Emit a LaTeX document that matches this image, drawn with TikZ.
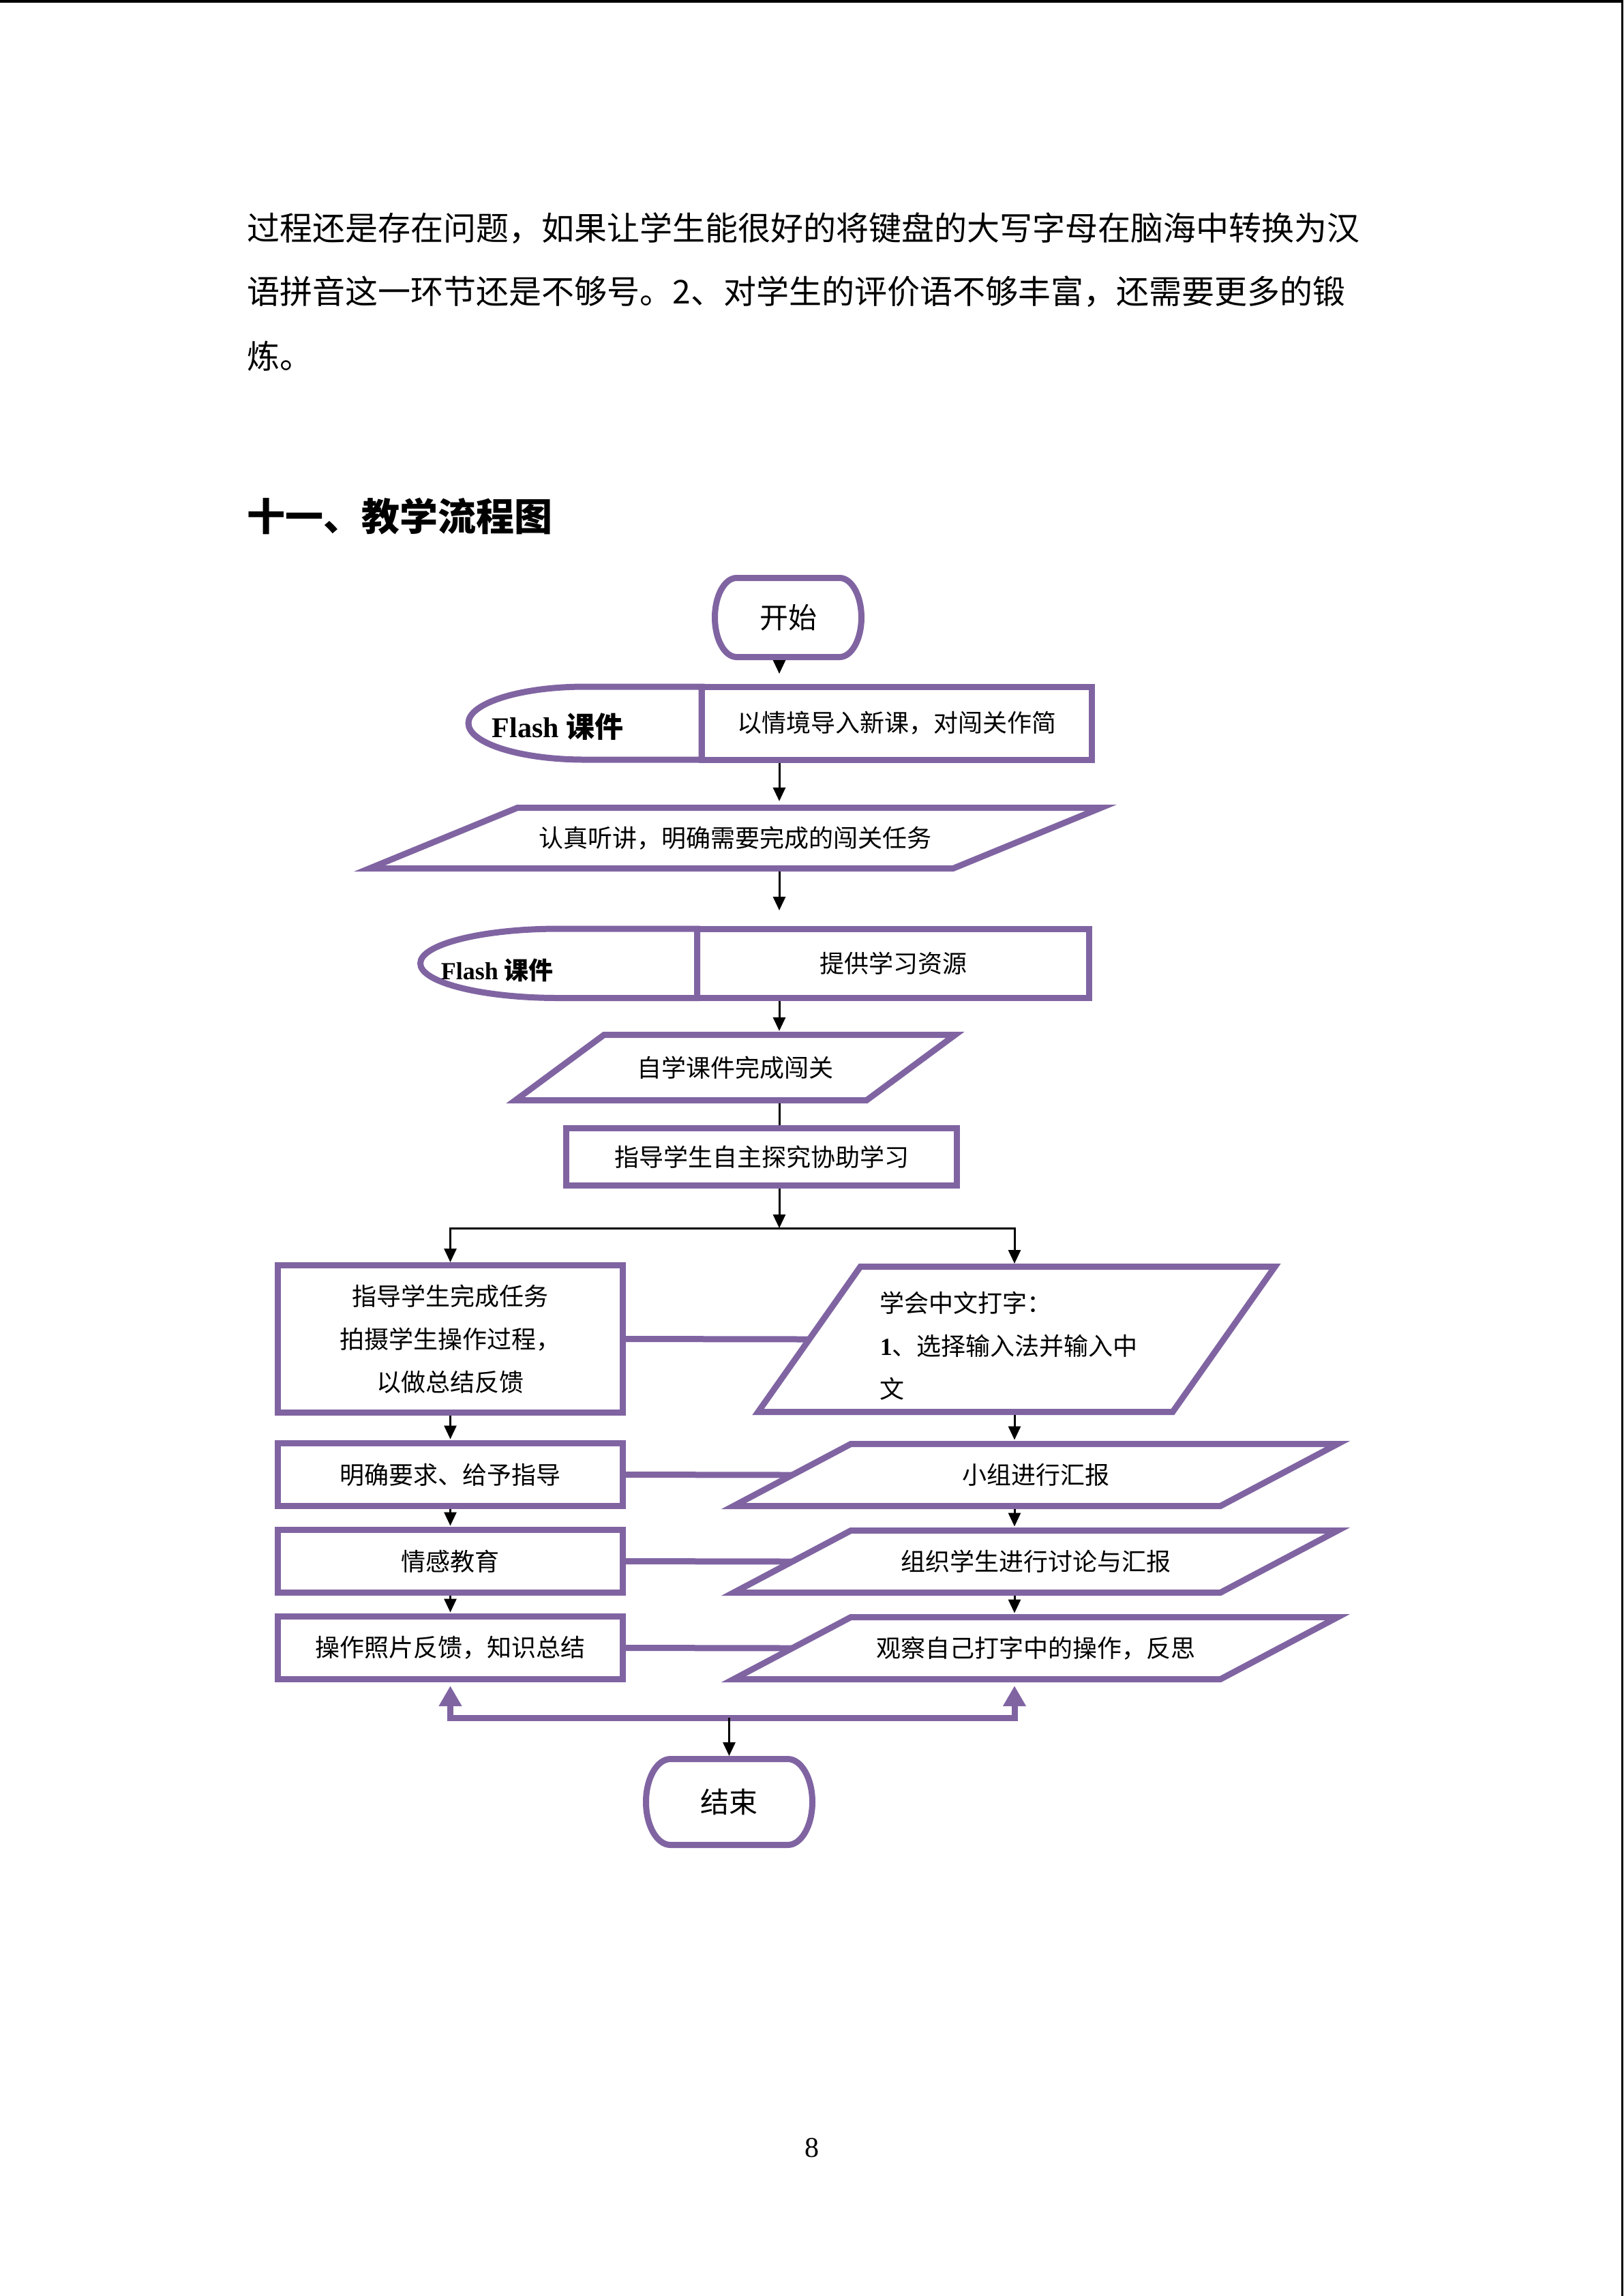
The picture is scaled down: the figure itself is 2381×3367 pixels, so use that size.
\documentclass[tikz,border=0pt]{standalone}
\usepackage{fontspec}
\setmainfont{Liberation Serif}
\newfontfamily\cjk{Noto Sans CJK SC}
\usetikzlibrary{arrows.meta}
\definecolor{purp}{HTML}{8064A2}

\newcommand\termpath[3]{%
  \draw[pline] ([xshift=#2]#1.north west) -- ([xshift=-#2]#1.north east)
    arc[start angle=90,end angle=-90,x radius=#2,y radius=#3]
    -- ([xshift=#2]#1.south west)
    arc[start angle=270,end angle=90,x radius=#2,y radius=#3] -- cycle;}
\newcommand\parapath[2]{%
  \draw[pline] ([xshift=#2]#1.north west) -- (#1.north east)
    -- ([xshift=-#2]#1.south east) -- (#1.south west) -- cycle;}
\newcommand\delaypath[3]{%
  \draw[pline] (#1.north east) -- (#1.north)
    arc[start angle=90,end angle=270,x radius=#2,y radius=#3]
    -- (#1.south east) -- cycle;}

\tikzset{
  shp/.style={inner sep=0pt, outer sep=0pt, align=center,
    font=\cjk\fontsize{9pt}{15.75pt}\selectfont},
  pline/.style={draw=purp, line width=2.25pt, line join=miter},
  blk/.style={draw=black, line width=0.75pt},
  arr/.style={blk, -{Triangle[length=5pt,width=4.5pt]}, shorten <=1.125pt, shorten >=1.5pt},
  pbar/.style={draw=purp, line width=2.25pt},
  parr/.style={draw=purp, line width=2.25pt, line join=miter,
    {Triangle[length=7.5pt,width=8pt]}-{Triangle[length=7.5pt,width=8pt]},
    shorten <=2.4pt, shorten >=2.4pt},
  bodytext/.style={anchor=west, inner sep=0pt, font=\cjk\fontsize{12pt}{12pt}\selectfont},
}

\begin{document}
\begin{tikzpicture}[x=0.25pt,y=-0.25pt]
\useasboundingbox (0,0) rectangle (2381,3367);
\fill[white] (0,0) rectangle (2381,3367);
% page edges
\fill[black] (0,0) rectangle (2381,4);
\fill[black] (2378,0) rectangle (2381,3367);

% body text
\node[bodytext] (l1) at (362,335) {过程还是存在问题，如果让学生能很好的将键盘的大写字母在脑海中转换为汉};
\node[bodytext] (l2) at (362,428) {语拼音这一环节还是不够号。2、对学生的评价语不够丰富，还需要更多的锻};
\node[bodytext] (l3) at (362,522) {炼。};

% title
\node[anchor=west, inner sep=0pt, font=\cjk\bfseries\fontsize{14pt}{14pt}\selectfont] (title) at (362,757) {十一、教学流程图};

% column coordinates
\coordinate (cx) at (1143,0);
\coordinate (rcol) at (1488,0);
\coordinate (brY) at (0,1801);
\coordinate (bbar) at (1069.5,2519);

% start
\node[shp, minimum width=53.75pt, minimum height=29pt, font=\cjk\fontsize{10.5pt}{12pt}\selectfont] (start) at (1156,905.5) {开始};
\termpath{start}{8pt}{14.5pt}

% Flash A + rect A
\node[shp, minimum width=85.5pt, minimum height=26.75pt] (flashAd) at (858,1060.5) {};
\delaypath{flashAd}{42.75pt}{13.375pt}
\node[anchor=west, inner sep=0pt, font=\bfseries\fontsize{10.5pt}{12pt}\selectfont] (flashAt) at (721,1066) {Flash {\cjk 课件}};
\node[shp, pline, minimum width=143pt, minimum height=26.75pt] (rA) at (1315,1060.5) {以情境导入新课，对闯关作简};

% parallelogram A
\node[shp, minimum width=268.25pt, minimum height=22.25pt] (pA) at (1078.5,1229) {认真听讲，明确需要完成的闯关任务};
\parapath{pA}{54.25pt}

% Flash B + rect B
\node[shp, minimum width=101.5pt, minimum height=25.375pt] (flashBd) at (819.5,1412.75) {};
\delaypath{flashBd}{50.75pt}{12.6875pt}
\node[anchor=west, inner sep=0pt, font=\bfseries\fontsize{9pt}{11pt}\selectfont] (flashBt) at (646,1423) {Flash {\cjk 课件}};
\node[shp, pline, minimum width=143.75pt, minimum height=25.375pt] (rB) at (1310,1412.75) {提供学习资源};

% parallelogram B
\node[shp, minimum width=161.25pt, minimum height=24pt] (pB) at (1078.5,1565.5) {自学课件完成闯关};
\parapath{pB}{32.5pt}

% rect C
\node[shp, pline, minimum width=143.25pt, minimum height=21pt] (rC) at (1117,1696.5) {指导学生自主探究协助学习};

% big left box
\node[shp, pline, minimum width=126.5pt, minimum height=54pt] (leftbig) at (660.5,1963.5) {指导学生完成任务\\拍摄学生操作过程，\\以做总结反馈};

% big right parallelogram
\node[shp, minimum width=189.5pt, minimum height=53.25pt] (rightbig) at (1491,1964) {};
\parapath{rightbig}{37.5pt}
\node[anchor=west, inner sep=0pt, align=left, font=\cjk\fontsize{9pt}{15.75pt}\selectfont] (rbtext) at (1290,1974) {学会中文打字：\\{\rmfamily\bfseries 1}、选择输入法并输入中\\文};

% left column boxes
\node[shp, pline, minimum width=126.5pt, minimum height=23pt] (lb1) at (660.5,2162.5) {明确要求、给予指导};
\node[shp, pline, minimum width=126.5pt, minimum height=23pt] (lb2) at (660.5,2289.5) {情感教育};
\node[shp, pline, minimum width=126.5pt, minimum height=23pt] (lb3) at (660.5,2416.5) {操作照片反馈，知识总结};

% right column parallelograms
\node[shp, minimum width=221.5pt, minimum height=22.75pt] (rp1) at (1519,2163) {小组进行汇报};
\parapath{rp1}{43pt}
\node[shp, minimum width=221.5pt, minimum height=22.75pt] (rp2) at (1519,2290) {组织学生进行讨论与汇报};
\parapath{rp2}{43pt}
\node[shp, minimum width=221.5pt, minimum height=22.75pt] (rp3) at (1519,2417) {观察自己打字中的操作，反思};
\parapath{rp3}{43pt}

% end
\node[shp, minimum width=61pt, minimum height=31.5pt, font=\cjk\fontsize{10.5pt}{12pt}\selectfont] (stop) at (1069.5,2642.5) {结束};
\termpath{stop}{9pt}{15.75pt}

% purple bars
\draw[pbar] (leftbig.east) -- ([xshift=18.75pt]rightbig.west);
\draw[pbar] (lb1.east) -- ([xshift=21.5pt]rp1.west);
\draw[pbar] (lb2.east) -- ([xshift=21.5pt]rp2.west);
\draw[pbar] (lb3.east) -- ([xshift=21.5pt]rp3.west);

% black connectors
\draw[arr, shorten >=4.75pt] (start.south -| cx) -- (rA.north -| cx);
\draw[arr, shorten >=2.4pt] (rA.south -| cx) -- (pA.north -| cx);
\draw[arr, shorten >=6.75pt] (pA.south -| cx) -- (rB.north -| cx);
\draw[arr, shorten >=1.4pt] (rB.south -| cx) -- (pB.north -| cx);
\draw[blk, shorten <=1.125pt, shorten >=1.125pt] (pB.south -| cx) -- (rC.north -| cx);
\draw[arr, shorten >=0pt] (rC.south -| cx) -- (cx |- brY);
\draw[arr, shorten <=0pt, shorten >=1.125pt] (cx |- brY) -| (leftbig.north);
\draw[arr, shorten <=0pt, shorten >=1.125pt] (cx |- brY) -| (rightbig.north -| rcol);
\draw[arr] (leftbig.south) -- (lb1.north);
\draw[arr] (lb1.south) -- (lb2.north);
\draw[arr] (lb2.south) -- (lb3.north);
\draw[arr] (rightbig.south -| rcol) -- (rp1.north -| rcol);
\draw[arr] (rp1.south -| rcol) -- (rp2.north -| rcol);
\draw[arr] (rp2.south -| rcol) -- (rp3.north -| rcol);

% purple bracket with arrows up
\draw[parr] (lb3.south) -- (lb3.south |- bbar) -- (rcol |- bbar) -- (rp3.south -| rcol);
\draw[arr, shorten <=0pt, shorten >=1.125pt] (bbar) -- (stop.north);

% page number
\node[inner sep=0pt, font=\fontsize{10.5pt}{12pt}\selectfont] (pg) at (1191,3150) {8};
\end{tikzpicture}
\end{document}
